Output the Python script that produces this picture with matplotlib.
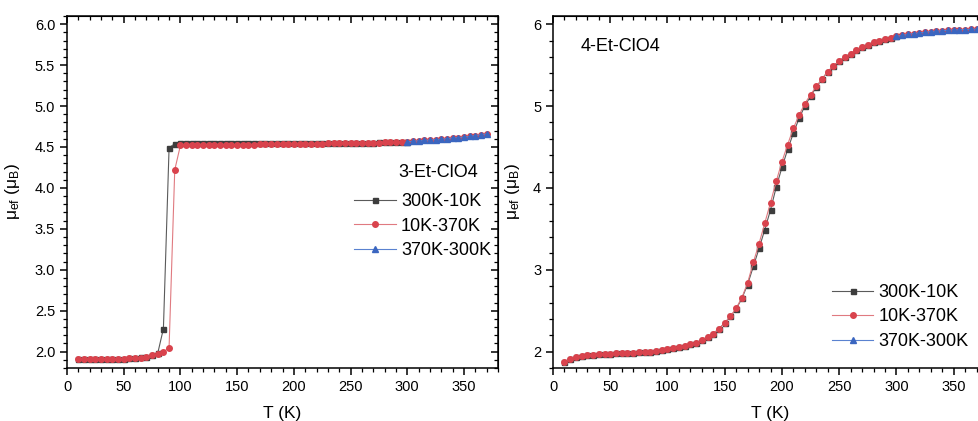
import matplotlib
matplotlib.use("Agg")
import matplotlib.pyplot as plt
from matplotlib.ticker import MultipleLocator

plt.rcParams['font.family'] = ['Liberation Sans', 'DejaVu Sans']
plt.rcParams['mathtext.default'] = 'regular'

# ---------------- 3-Et-ClO4 ----------------
t_cool_3 = [300, 295, 290, 285, 280, 275, 270, 265, 260, 255, 250, 245, 240, 235, 230,
            225, 220, 215, 210, 205, 200, 195, 190, 185, 180, 175, 170, 165, 160, 155,
            150, 145, 140, 135, 130, 125, 120, 115, 110, 105, 100, 95, 90, 85, 80,
            75, 70, 65, 60, 55, 50, 45, 40, 35, 30, 25, 20, 15, 10]
mu_cool_3 = [4.56, 4.56, 4.555, 4.555, 4.555, 4.555, 4.55, 4.55, 4.55, 4.55, 4.55, 4.55, 4.55, 4.55, 4.55,
             4.55, 4.55, 4.55, 4.545, 4.545, 4.545, 4.545, 4.545, 4.545, 4.545, 4.545, 4.545, 4.545, 4.545, 4.545,
             4.545, 4.545, 4.545, 4.545, 4.545, 4.545, 4.545, 4.545, 4.545, 4.545, 4.545, 4.54, 4.49, 2.28, 1.98,
             1.955, 1.94, 1.93, 1.92, 1.92, 1.915, 1.91, 1.91, 1.91, 1.91, 1.91, 1.91, 1.91, 1.91]

t_heat_3 = [10, 15, 20, 25, 30, 35, 40, 45, 50, 55, 60, 65, 70, 75, 80,
            85, 90, 95, 100, 105, 110, 115, 120, 125, 130, 135, 140, 145, 150, 155,
            160, 165, 170, 175, 180, 185, 190, 195, 200, 205, 210, 215, 220, 225, 230,
            235, 240, 245, 250, 255, 260, 265, 270, 275, 280, 285, 290, 295, 300, 305,
            310, 315, 320, 325, 330, 335, 340, 345, 350, 355, 360, 365, 370]
mu_heat_3 = [1.91, 1.91, 1.91, 1.91, 1.91, 1.91, 1.91, 1.91, 1.915, 1.92, 1.92, 1.925, 1.94, 1.955, 1.97,
             1.995, 2.05, 4.22, 4.52, 4.525, 4.525, 4.53, 4.53, 4.53, 4.53, 4.53, 4.53, 4.53, 4.53, 4.53,
             4.53, 4.53, 4.535, 4.535, 4.535, 4.535, 4.535, 4.535, 4.54, 4.54, 4.54, 4.54, 4.54, 4.54, 4.545,
             4.545, 4.545, 4.545, 4.545, 4.545, 4.55, 4.55, 4.55, 4.55, 4.555, 4.555, 4.555, 4.56, 4.565, 4.57,
             4.575, 4.58, 4.585, 4.59, 4.595, 4.60, 4.61, 4.615, 4.62, 4.63, 4.64, 4.65, 4.66]

t_back_3 = [370, 365, 360, 355, 350, 345, 340, 335, 330, 325, 320, 315, 310, 305, 300]
mu_back_3 = [4.66, 4.65, 4.64, 4.63, 4.62, 4.615, 4.61, 4.60, 4.595, 4.59, 4.585, 4.58, 4.575, 4.57, 4.565]

# ---------------- 4-Et-ClO4 ----------------
t_cool_4 = [300, 295, 290, 285, 280, 275, 270, 265, 260, 255, 250, 245, 240, 235, 230,
            225, 220, 215, 210, 205, 200, 195, 190, 185, 180, 175, 170, 165, 160, 155,
            150, 145, 140, 135, 130, 125, 120, 115, 110, 105, 100, 95, 90, 85, 80,
            75, 70, 65, 60, 55, 50, 45, 40, 35, 30, 25, 20, 15, 10]
mu_cool_4 = [5.85, 5.835, 5.82, 5.80, 5.78, 5.75, 5.72, 5.68, 5.64, 5.60, 5.55, 5.49, 5.42, 5.33, 5.23,
             5.12, 5.00, 4.85, 4.67, 4.47, 4.25, 4.01, 3.73, 3.49, 3.26, 3.04, 2.82, 2.65, 2.52, 2.43,
             2.35, 2.28, 2.22, 2.175, 2.14, 2.11, 2.09, 2.07, 2.055, 2.04, 2.03, 2.02, 2.01, 2.0, 1.995,
             1.99, 1.986, 1.983, 1.98, 1.978, 1.975, 1.97, 1.965, 1.96, 1.955, 1.945, 1.935, 1.91, 1.87]

t_heat_4 = [10, 15, 20, 25, 30, 35, 40, 45, 50, 55, 60, 65, 70, 75, 80,
            85, 90, 95, 100, 105, 110, 115, 120, 125, 130, 135, 140, 145, 150, 155,
            160, 165, 170, 175, 180, 185, 190, 195, 200, 205, 210, 215, 220, 225, 230,
            235, 240, 245, 250, 255, 260, 265, 270, 275, 280, 285, 290, 295, 300, 305,
            310, 315, 320, 325, 330, 335, 340, 345, 350, 355, 360, 365, 370]
mu_heat_4 = [1.87, 1.91, 1.935, 1.945, 1.955, 1.96, 1.965, 1.97, 1.975, 1.978, 1.98, 1.983, 1.986, 1.99, 1.995,
             2.0, 2.01, 2.02, 2.03, 2.04, 2.055, 2.07, 2.09, 2.11, 2.14, 2.175, 2.22, 2.28, 2.35, 2.43,
             2.53, 2.66, 2.84, 3.09, 3.32, 3.57, 3.82, 4.08, 4.32, 4.53, 4.73, 4.89, 5.03, 5.14, 5.24,
             5.33, 5.42, 5.49, 5.55, 5.60, 5.64, 5.68, 5.72, 5.75, 5.78, 5.80, 5.82, 5.835, 5.85, 5.865,
             5.875, 5.885, 5.895, 5.90, 5.91, 5.915, 5.92, 5.925, 5.93, 5.932, 5.935, 5.937, 5.94]

t_back_4 = [370, 365, 360, 355, 350, 345, 340, 335, 330, 325, 320, 315, 310, 305, 300]
mu_back_4 = [5.94, 5.937, 5.935, 5.932, 5.93, 5.925, 5.92, 5.915, 5.91, 5.90, 5.895, 5.885, 5.875, 5.865, 5.85]

labels = ['300K-10K', '10K-370K', '370K-300K']

BLACK_M, BLACK_L = '#3d3d3d', '#5a5a5a'
RED_M, RED_L = '#d9434d', '#e07a80'
BLUE_M, BLUE_L = '#3b66c0', '#5a82d0'

W, H = 979, 421
fig = plt.figure(figsize=(W / 100, H / 100), dpi=100)

ax1 = fig.add_axes([67 / W, 1 - 368 / H, 431 / W, 352 / H])
ax2 = fig.add_axes([553 / W, 1 - 368 / H, 435 / W, 352 / H])


def draw(ax, tc, mc, th, mh, tb, mb):
    ax.plot(tc, mc, '-s', color=BLACK_L, mfc=BLACK_M, mec=BLACK_M, lw=0.8, ms=3.6, label=labels[0], zorder=3)
    ax.plot(th, mh, '-o', color=RED_L, mfc=RED_M, mec=RED_M, lw=0.8, ms=4.0, label=labels[1], zorder=4)
    ax.plot(tb, mb, '-^', color=BLUE_L, mfc=BLUE_M, mec=BLUE_M, lw=0.8, ms=4.2, label=labels[2], zorder=5)


def style(ax, ymaj, ymin, yfmt):
    ax.set_xlim(0, 380)
    ax.set_ylim(1.8, 6.1)
    ax.xaxis.set_major_locator(MultipleLocator(50))
    ax.xaxis.set_minor_locator(MultipleLocator(10))
    ax.yaxis.set_major_locator(MultipleLocator(ymaj))
    ax.yaxis.set_minor_locator(MultipleLocator(ymin))
    ax.yaxis.set_major_formatter(yfmt)
    for s in ax.spines.values():
        s.set_linewidth(1.1)
    ax.tick_params(which='major', direction='out', length=5, width=1.1, labelsize=10.5)
    ax.tick_params(which='minor', direction='out', length=3, width=0.9)
    ax.set_xlabel('T (K)', fontsize=12.5, labelpad=9)
    ax.set_ylabel(r'$\mu_{ef}$ ($\mu_B$)', fontsize=12.5)
    # mirrored ticks pointing inward on top and right
    top = ax.secondary_xaxis('top')
    top.xaxis.set_major_locator(MultipleLocator(50))
    top.xaxis.set_minor_locator(MultipleLocator(10))
    top.tick_params(which='major', direction='in', length=5, width=1.1, labeltop=False)
    top.tick_params(which='minor', direction='in', length=3, width=0.9)
    right = ax.secondary_yaxis('right')
    right.yaxis.set_major_locator(MultipleLocator(ymaj))
    right.yaxis.set_minor_locator(MultipleLocator(ymin))
    right.tick_params(which='major', direction='in', length=5, width=1.1, labelright=False)
    right.tick_params(which='minor', direction='in', length=3, width=0.9)


draw(ax1, t_cool_3, mu_cool_3, t_heat_3, mu_heat_3, t_back_3, mu_back_3)
draw(ax2, t_cool_4, mu_cool_4, t_heat_4, mu_heat_4, t_back_4, mu_back_4)

style(ax1, 0.5, 0.1, '{x:.1f}')
style(ax2, 1.0, 0.2, '{x:.0f}')

ax1.yaxis.set_label_coords(-45 / 431, 0.5, transform=ax1.transAxes)
ax2.yaxis.set_label_coords(-31 / 435, 0.5, transform=ax2.transAxes)

leg_kw = dict(frameon=False, fontsize=13, numpoints=1, handlelength=2.3,
              handletextpad=0.3, labelspacing=0.42, borderpad=0, borderaxespad=0)
ax1.legend(loc='center left', bbox_to_anchor=(0.666, 0.403), **leg_kw)
ax2.legend(loc='center left', bbox_to_anchor=(0.641, 0.145), **leg_kw)

ax1.text(0.768, 0.554, '3-Et-ClO4', transform=ax1.transAxes, fontsize=13, va='center', ha='left')
ax2.text(0.064, 0.912, '4-Et-ClO4', transform=ax2.transAxes, fontsize=13, va='center', ha='left')

fig.savefig('out.png', dpi=100)
